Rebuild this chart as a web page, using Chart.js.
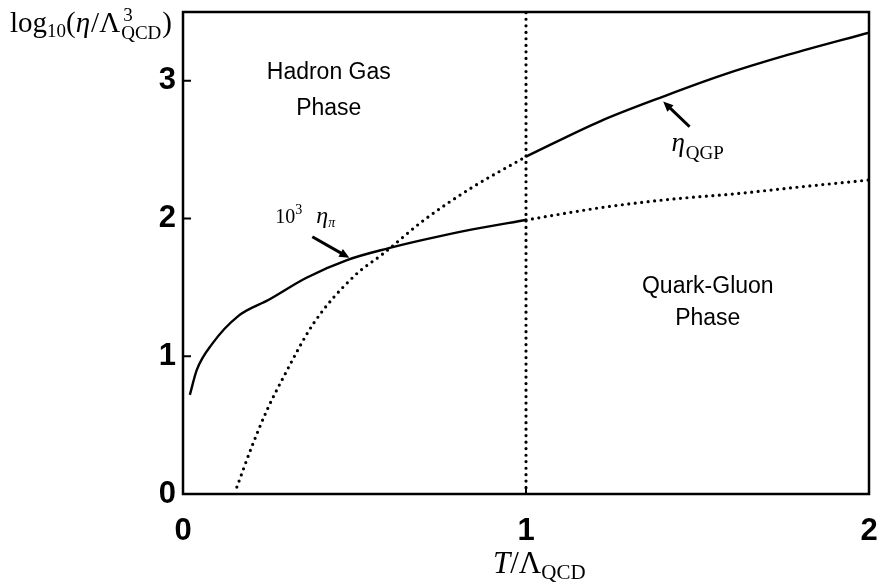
<!DOCTYPE html>
<html>
<head>
<meta charset="utf-8">
<script src="https://cdn.jsdelivr.net/npm/chart.js@4.4.1/dist/chart.umd.min.js"></script>
<style>
  body { margin: 0; background: #fff; }
  canvas { display: block; }
</style>
</head>
<body>
<canvas id="myChart" width="879" height="587"></canvas>
<script>
'use strict';

// pion viscosity (x 10^3), solid below T = Lambda, dotted above
let pionX = [0.02, 0.04, 0.085, 0.16, 0.25, 0.36, 0.48, 0.6, 0.7, 0.84, 1.0];
let pionY = [0.72, 0.90, 1.09, 1.29, 1.41, 1.57, 1.70, 1.785, 1.845, 1.92, 1.99];
let pionHighX = [1.0, 1.22, 1.42, 1.61, 1.8, 2.0];
let pionHighY = [1.99, 2.08, 2.14, 2.18, 2.23, 2.28];

// QGP viscosity, dotted below T = Lambda, solid above
let qgpLowX = [0.157, 0.2, 0.245, 0.289, 0.381, 0.498, 0.586, 0.703, 0.839, 1.0];
let qgpLowY = [0.05, 0.34, 0.61, 0.83, 1.24, 1.58, 1.75, 1.99, 2.22, 2.45];
let qgpX = [1.0, 1.219, 1.404, 1.57, 1.765, 2.0];
let qgpY = [2.45, 2.71, 2.89, 3.04, 3.19, 3.35];

let xTicks = [0, 1, 2];
let yTicks = [0, 1, 2, 3];
let xRange = [0, 2];
let yRange = [0, 3.5];
let transitionT = 1;

function toPoints(xs, ys) {
  let out = [];
  for (let i = 0; i < xs.length; i++) {
    out.push({x: xs[i], y: ys[i]});
  }
  return out;
}

let solid = {borderColor: '#000', borderWidth: 2.4, pointRadius: 0, showLine: true,
  cubicInterpolationMode: 'monotone', fill: false};
let dotted = {borderColor: '#000', borderWidth: 3.2, pointRadius: 0, showLine: true,
  cubicInterpolationMode: 'monotone', fill: false, borderDash: [0, 6.5], borderCapStyle: 'round'};

// text labels, placed in data units
let labels = [
  {text: 'Hadron Gas', x: 0.425, y: 3.01},
  {text: 'Phase', x: 0.425, y: 2.755},
  {text: 'Quark-Gluon', x: 1.53, y: 1.46},
  {text: 'Phase', x: 1.53, y: 1.228}
];
let arrows = [
  {from: [0.377, 1.868], to: [0.485, 1.715]},
  {from: [1.477, 2.667], to: [1.40, 2.85]}
];

function drawArrow(ctx, x1, y1, x2, y2) {
  let a = Math.atan2(y2 - y1, x2 - x1);
  ctx.beginPath();
  ctx.moveTo(x1, y1);
  ctx.lineTo(x2 - 6 * Math.cos(a), y2 - 6 * Math.sin(a));
  ctx.lineWidth = 3;
  ctx.stroke();
  ctx.beginPath();
  ctx.moveTo(x2, y2);
  ctx.lineTo(x2 - 10 * Math.cos(a) + 4.5 * Math.sin(a), y2 - 10 * Math.sin(a) - 4.5 * Math.cos(a));
  ctx.lineTo(x2 - 10 * Math.cos(a) - 4.5 * Math.sin(a), y2 - 10 * Math.sin(a) + 4.5 * Math.cos(a));
  ctx.closePath();
  ctx.fill();
}

// draws runs of [text, font, dy, extra gap] one after another, returns end x
function drawRuns(ctx, x, y, runs) {
  ctx.textAlign = 'left';
  ctx.textBaseline = 'alphabetic';
  for (let r of runs) {
    ctx.font = r[1];
    ctx.fillText(r[0], x, y + (r[2] || 0));
    x += ctx.measureText(r[0]).width + (r[3] || 0);
  }
  return x;
}

let decorations = {
  id: 'decorations',
  afterDatasetsDraw(chart) {
    let ctx = chart.ctx;
    let area = chart.chartArea;
    let xs = chart.scales.x;
    let ys = chart.scales.y;
    ctx.save();
    ctx.strokeStyle = '#000';
    ctx.fillStyle = '#000';

    // frame
    ctx.lineWidth = 2.5;
    ctx.strokeRect(area.left, area.top, area.right - area.left, area.bottom - area.top);

    // inward ticks
    ctx.lineWidth = 2;
    ctx.beginPath();
    for (let v of yTicks) {
      let py = ys.getPixelForValue(v);
      ctx.moveTo(area.left, py);
      ctx.lineTo(area.left + 8, py);
    }
    for (let v of xTicks) {
      let px = xs.getPixelForValue(v);
      ctx.moveTo(px, area.bottom);
      ctx.lineTo(px, area.bottom - 8);
    }
    ctx.stroke();

    // phase labels
    ctx.font = '23px "Liberation Sans", Arial, sans-serif';
    ctx.textAlign = 'center';
    ctx.textBaseline = 'alphabetic';
    for (let l of labels) {
      ctx.fillText(l.text, xs.getPixelForValue(l.x), ys.getPixelForValue(l.y));
    }

    // curve labels
    let serif = '"Liberation Serif", "Times New Roman", serif';
    drawRuns(ctx, xs.getPixelForValue(0.269), ys.getPixelForValue(1.97), [
      ['10', '20px ' + serif, 0],
      ['3', '14px ' + serif, -9, 14],
      ['\u03b7', 'italic 24px ' + serif, 0],
      ['\u03c0', 'italic 14px ' + serif, 4]
    ]);
    drawRuns(ctx, xs.getPixelForValue(1.424), ys.getPixelForValue(2.49), [
      ['\u03b7', 'italic 27px ' + serif, 0, 1],
      ['QGP', '19px ' + serif, 8]
    ]);

    for (let a of arrows) {
      drawArrow(ctx, xs.getPixelForValue(a.from[0]), ys.getPixelForValue(a.from[1]),
        xs.getPixelForValue(a.to[0]), ys.getPixelForValue(a.to[1]));
    }

    // y axis title, written horizontally above the axis
    let sx = drawRuns(ctx, 10, 32, [
      ['log', '29px ' + serif, 0],
      ['10', '19px ' + serif, 5],
      ['(', '29px ' + serif, 0],
      ['\u03b7', 'italic 29px ' + serif, 0, 1],
      ['/\u039b', '29px ' + serif, 0, 1]
    ]);
    ctx.font = '19px ' + serif;
    ctx.fillText('3', sx + 2, 21);
    let qw = ctx.measureText('QCD').width;
    ctx.fillText('QCD', sx, 39);
    ctx.font = '29px ' + serif;
    ctx.fillText(')', sx + qw + 1, 32);

    // x axis title
    drawRuns(ctx, 493, 573, [
      ['T', 'italic 31px ' + serif, 0],
      ['/\u039b', '31px ' + serif, 0],
      ['QCD', '21px ' + serif, 6]
    ]);
    ctx.restore();
  }
};

let ctx = document.getElementById('myChart').getContext('2d');
let myChart = new Chart(ctx, {
  type: 'scatter',
  data: {
    datasets: [
      Object.assign({data: toPoints(pionX, pionY)}, solid),
      Object.assign({data: toPoints(pionHighX, pionHighY)}, dotted),
      Object.assign({data: toPoints(qgpLowX, qgpLowY)}, dotted),
      Object.assign({data: toPoints(qgpX, qgpY)}, solid),
      Object.assign({data: [{x: transitionT, y: yRange[0]}, {x: transitionT, y: yRange[1]}]}, dotted)
    ]
  },
  options: {
    responsive: false,
    animation: false,
    layout: {padding: {left: 0, top: 12, right: 10, bottom: 0}},
    plugins: {legend: {display: false}, tooltip: {enabled: false}},
    scales: {
      x: {
        type: 'linear',
        min: xRange[0],
        max: xRange[1],
        afterBuildTicks: function (scale) { scale.ticks = xTicks.map(v => ({value: v})); },
        afterFit: function (scale) {
          scale.height = 93;
          scale.paddingLeft = 0;
          scale.paddingRight = 0;
        },
        grid: {display: false, drawTicks: false},
        border: {display: false},
        ticks: {color: '#000', padding: 19, maxRotation: 0,
          font: {family: '"Liberation Sans", Arial, sans-serif', size: 31, weight: 'bold'}}
      },
      y: {
        type: 'linear',
        min: yRange[0],
        max: yRange[1],
        afterBuildTicks: function (scale) { scale.ticks = yTicks.map(v => ({value: v})); },
        afterFit: function (scale) {
          scale.width = 183;
          scale.paddingTop = 0;
          scale.paddingBottom = 0;
        },
        grid: {display: false, drawTicks: false},
        border: {display: false},
        ticks: {color: '#000', padding: 7,
          font: {family: '"Liberation Sans", Arial, sans-serif', size: 31, weight: 'bold'}}
      }
    }
  },
  plugins: [decorations]
});
</script>
</body>
</html>
